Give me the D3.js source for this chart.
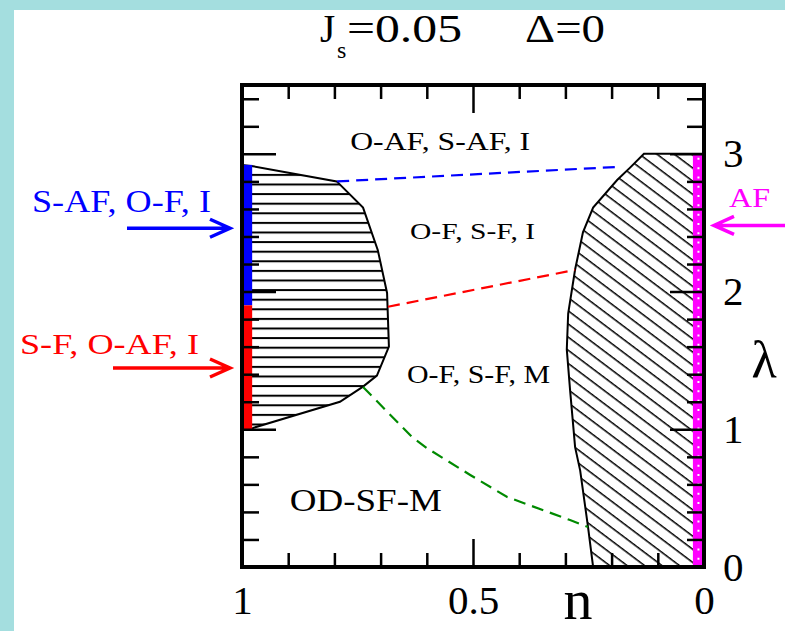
<!DOCTYPE html>
<html>
<head>
<meta charset="utf-8">
<script src="https://cdn.jsdelivr.net/npm/d3@7"></script>
<style>
  body { margin: 0; background: #fff; }
  svg { display: block; }
  text { font-family: "Liberation Serif", "Times New Roman", serif; }
</style>
</head>
<body>
<svg id="chart" width="785" height="631"></svg>
<script>
// Phase boundaries in the (n, λ) plane
const leftRegionN      = [1.000, 0.976, 0.795, 0.738, 0.706, 0.686, 0.682, 0.708, 0.738, 0.788, 0.976, 1.000];
const leftRegionLambda = [2.920, 2.910, 2.800, 2.610, 2.300, 1.990, 1.600, 1.390, 1.310, 1.200, 1.010, 1.000];

const rightRegionN      = [0.000, 0.130, 0.160, 0.188, 0.240, 0.262, 0.279, 0.294, 0.297, 0.290, 0.279, 0.268, 0.251, 0.240, 0.000];
const rightRegionLambda = [3.000, 3.000, 2.900, 2.810, 2.610, 2.430, 2.160, 1.840, 1.580, 1.290, 0.870, 0.700, 0.290, 0.000, 0.000];

// Crossover lines (dashed)
const blueDashN       = [0.794, 0.188];
const blueDashLambda  = [2.800, 2.905];
const redDashN        = [0.684, 0.279];
const redDashLambda   = [1.890, 2.157];
const greenDashN      = [0.738, 0.632, 0.600, 0.506, 0.426, 0.290, 0.251];
const greenDashLambda = [1.307, 0.944, 0.864, 0.668, 0.508, 0.341, 0.290];

// Phases on the n = 1 and n = 0 edges (λ ranges)
const safRange = [1.90, 2.92];   // S-AF, O-F, I at n = 1
const sfRange  = [1.00, 1.90];   // S-F, O-AF, I at n = 1
const afRange  = [0.00, 3.00];   // AF at n = 0

// Axis ticks
const nMajorTicks   = [1, 0.5, 0];
const nMajorLabels  = ["1", "0.5", "0"];
const nMinorTicks   = [0.9, 0.8, 0.7, 0.6, 0.4, 0.3, 0.2, 0.1];
const lamMajorTicks = [0, 1, 2, 3];
const lamMajorLabels = ["0", "1", "2", "3"];
const lamMinorTicks = [0.2, 0.4, 0.6, 0.8, 1.2, 1.4, 1.6, 1.8, 2.2, 2.4, 2.6, 2.8, 3.2, 3.4];

const W = 785, H = 631;
const svg = d3.select("#chart");

const x = d3.scaleLinear().domain([1, 0]).range([242, 704]);
const y = d3.scaleLinear().domain([0, 3.5]).range([567, 85]);

// page background: cyan border with white panel
svg.append("rect").attr("width", W).attr("height", H).attr("fill", "#a4dedf");
svg.append("rect").attr("x", 14).attr("y", 10).attr("width", W - 14).attr("height", H - 10).attr("fill", "#fff");

const defs = svg.append("defs");
const hp = defs.append("pattern").attr("id", "hatchH")
  .attr("patternUnits", "userSpaceOnUse")
  .attr("x", 0).attr("y", 1.1).attr("width", 12).attr("height", 9.6);
hp.append("rect").attr("x", 0).attr("y", 0).attr("width", 12).attr("height", 2).attr("fill", "#000");

const dp = defs.append("pattern").attr("id", "hatchD")
  .attr("patternUnits", "userSpaceOnUse")
  .attr("width", 24).attr("height", 10.5)
  .attr("patternTransform", "rotate(37)");
dp.append("rect").attr("x", 0).attr("y", 0).attr("width", 24).attr("height", 1.5).attr("fill", "#000");

const line = d3.line().x(d => x(d[0])).y(d => y(d[1]));
const zipPts = (a, b) => a.map((v, i) => [v, b[i]]);

// hatched regions
svg.append("path")
  .attr("d", line(zipPts(leftRegionN, leftRegionLambda)) + "Z")
  .attr("fill", "url(#hatchH)").attr("stroke", "#000").attr("stroke-width", 2);
svg.append("path")
  .attr("d", line(zipPts(rightRegionN, rightRegionLambda)) + "Z")
  .attr("fill", "url(#hatchD)").attr("stroke", "#000").attr("stroke-width", 2);

// coloured edge bands
const bandW = 0.022;
svg.append("rect").attr("x", x(1)).attr("width", x(1 - bandW) - x(1))
  .attr("y", y(safRange[1])).attr("height", y(safRange[0]) - y(safRange[1])).attr("fill", "#0000ff");
svg.append("rect").attr("x", x(1)).attr("width", x(1 - bandW) - x(1))
  .attr("y", y(sfRange[1])).attr("height", y(sfRange[0]) - y(sfRange[1])).attr("fill", "#ff0000");
svg.append("rect").attr("x", x(bandW + 0.002)).attr("width", x(0) - x(bandW + 0.002))
  .attr("y", y(afRange[1])).attr("height", y(afRange[0]) - y(afRange[1])).attr("fill", "#ff00ff");
svg.append("line")
  .attr("x1", x(0.012)).attr("x2", x(0.012))
  .attr("y1", y(afRange[1]) + 4).attr("y2", y(afRange[0]))
  .attr("stroke", "#fff").attr("stroke-width", 2).attr("stroke-dasharray", "2,7.3");

// dashed crossover lines
[[blueDashN, blueDashLambda, "#0000ff"],
 [redDashN, redDashLambda, "#ff0000"],
 [greenDashN, greenDashLambda, "#008a00"]].forEach(([nArr, lArr, c]) => {
  svg.append("path").attr("d", line(zipPts(nArr, lArr)))
    .attr("fill", "none").attr("stroke", c).attr("stroke-width", 2.2)
    .attr("stroke-dasharray", "12,7");
});

// axes with inward ticks
function styleAxis(g) {
  g.select(".domain").remove();
  g.selectAll(".tick line").attr("stroke", "#000").attr("stroke-width", 2.5);
  g.selectAll("text").attr("font-family", "Liberation Serif, serif").attr("fill", "#000");
}
svg.append("g").attr("transform", `translate(0,${y(0)})`)
  .call(d3.axisBottom(x).tickValues(nMinorTicks).tickSize(-14).tickFormat(""))
  .call(styleAxis);
svg.append("g").attr("transform", `translate(0,${y(0)})`)
  .call(d3.axisBottom(x).tickValues(nMajorTicks).tickSize(-28).tickPadding(18)
    .tickFormat((d, i) => nMajorLabels[i]))
  .call(styleAxis)
  .call(g => g.selectAll("text").attr("font-size", 41));
svg.append("g").attr("transform", `translate(0,${y(3.5)})`)
  .call(d3.axisTop(x).tickValues(nMinorTicks).tickSize(-14).tickFormat(""))
  .call(styleAxis);
svg.append("g").attr("transform", `translate(0,${y(3.5)})`)
  .call(d3.axisTop(x).tickValues([0.5]).tickSize(-28).tickFormat(""))
  .call(styleAxis);
svg.append("g").attr("transform", `translate(${x(1)},0)`)
  .call(d3.axisLeft(y).tickValues(lamMinorTicks).tickSize(-17).tickFormat(""))
  .call(styleAxis);
svg.append("g").attr("transform", `translate(${x(1)},0)`)
  .call(d3.axisLeft(y).tickValues(lamMajorTicks).tickSize(-34).tickFormat(""))
  .call(styleAxis);
svg.append("g").attr("transform", `translate(${x(0)},0)`)
  .call(d3.axisRight(y).tickValues(lamMinorTicks).tickSize(-17).tickFormat(""))
  .call(styleAxis);
svg.append("g").attr("transform", `translate(${x(0)},0)`)
  .call(d3.axisRight(y).tickValues(lamMajorTicks).tickSize(-34).tickPadding(19)
    .tickFormat((d, i) => lamMajorLabels[i]))
  .call(styleAxis)
  .call(g => g.selectAll("text").attr("font-size", 41));

// frame
svg.append("rect").attr("x", x(1)).attr("y", y(3.5))
  .attr("width", x(0) - x(1)).attr("height", y(0) - y(3.5))
  .attr("fill", "none").attr("stroke", "#000").attr("stroke-width", 4);

// axis titles
svg.append("text").attr("x", 578).attr("y", 619).attr("text-anchor", "middle")
  .attr("font-size", 58).text("n");
svg.append("text").attr("x", 764).attr("y", 377).attr("text-anchor", "middle")
  .attr("font-family", "DejaVu Serif, serif")
  .attr("font-size", 52).text("λ");

// title
const title = svg.append("text").attr("y", 42).attr("font-size", 39);
title.append("tspan").attr("x", 320).text("J");
title.append("tspan").attr("x", 337).attr("y", 58).attr("font-size", 24).text("s");
title.append("tspan").attr("x", 347).attr("y", 42).attr("textLength", 115).attr("lengthAdjust", "spacingAndGlyphs").text("=0.05");
title.append("tspan").attr("x", 525).attr("y", 42).attr("textLength", 80).attr("lengthAdjust", "spacingAndGlyphs").text("Δ=0");

// phase labels inside the diagram
function phaseLabel(n, lam, txt, size, len) {
  svg.append("text").attr("x", x(n)).attr("y", y(lam)).attr("text-anchor", "middle")
    .attr("font-size", size).attr("textLength", len).attr("lengthAdjust", "spacingAndGlyphs")
    .text(txt);
}
phaseLabel(0.571, 3.028, "O-AF, S-AF, I", 26, 180);
phaseLabel(0.501, 2.382, "O-F, S-F, I", 24, 125);
phaseLabel(0.488, 1.336, "O-F, S-F, M", 25, 143);
phaseLabel(0.732, 0.407, "OD-SF-M", 32, 152);

// edge phase annotations with arrows
function arrow(x1, x2, yy, color) {
  const dir = Math.sign(x2 - x1);
  svg.append("path")
    .attr("d", `M${x1},${yy}H${x2}M${x2 - dir * 20},${yy - 9}L${x2},${yy}L${x2 - dir * 20},${yy + 9}`)
    .attr("fill", "none").attr("stroke", color).attr("stroke-width", 3.5);
}
svg.append("text").attr("x", 121.5).attr("y", 212).attr("text-anchor", "middle")
  .attr("font-size", 31).attr("fill", "#0000ff")
  .attr("textLength", 179).attr("lengthAdjust", "spacingAndGlyphs").text("S-AF, O-F, I");
arrow(127, x(1) - 12, y(2.46), "#0000ff");
svg.append("text").attr("x", 109.5).attr("y", 354).attr("text-anchor", "middle")
  .attr("font-size", 30).attr("fill", "#ff0000")
  .attr("textLength", 179).attr("lengthAdjust", "spacingAndGlyphs").text("S-F, O-AF, I");
arrow(113, x(1) - 12, y(1.445), "#ff0000");
svg.append("text").attr("x", 749.5).attr("y", 207).attr("text-anchor", "middle")
  .attr("font-size", 27).attr("fill", "#ff00ff")
  .attr("textLength", 41).attr("lengthAdjust", "spacingAndGlyphs").text("AF");
arrow(785, x(0) + 10, y(2.48), "#ff00ff");
</script>
</body>
</html>
